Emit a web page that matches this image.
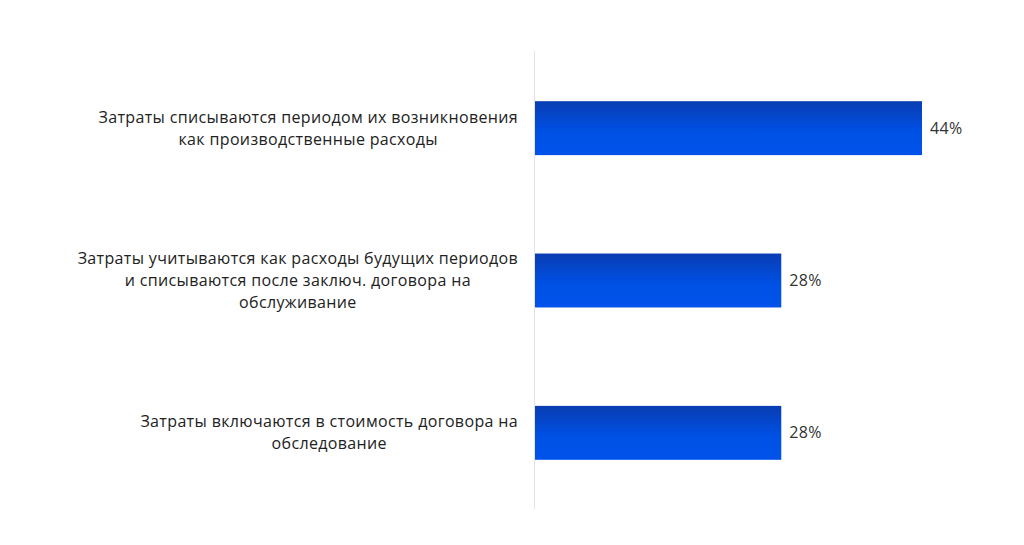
<!DOCTYPE html>
<html>
<head>
<meta charset="utf-8">
<script src="https://cdn.jsdelivr.net/npm/d3@7"></script>
<style>
  body { margin: 0; background: #fff; }
  text { font-family: "Open Sans", "Noto Sans", sans-serif; }
</style>
</head>
<body>
<div id="chart"></div>
<script>
/**
 * DATA
 * */
const categories = [
  "Затраты списываются периодом их возникновения\nкак производственные расходы",
  "Затраты учитываются как расходы будущих периодов\nи списываются после заключ. договора на\nобслуживание",
  "Затраты включаются в стоимость договора на\nобследование"
];
const values = [44, 28, 28];

/**
 * CONSTANTS
 * */
const width = 1024,
  height = 545,
  margin = { top: 51, bottom: 36, left: 535, right: 102 };

const svg = d3
  .select("#chart")
  .append("svg")
  .attr("width", width)
  .attr("height", height);

// bar gradient, darker on top
const grad = svg
  .append("defs")
  .append("linearGradient")
  .attr("id", "barGrad")
  .attr("x1", 0).attr("y1", 0)
  .attr("x2", 0).attr("y2", 1);
grad.append("stop").attr("offset", "0%").attr("stop-color", "#093db2");
grad.append("stop").attr("offset", "55%").attr("stop-color", "#0050e4");
grad.append("stop").attr("offset", "100%").attr("stop-color", "#0053ea");

const xScale = d3
  .scaleLinear()
  .domain([0, 44])
  .range([margin.left, 922]);

const yScale = d3
  .scaleBand()
  .domain(categories)
  .range([margin.top + 1, height - margin.bottom])
  .paddingInner(0.646)
  .paddingOuter(0.323);

// axis line
svg
  .append("line")
  .attr("x1", xScale(0) - 0.5)
  .attr("x2", xScale(0) - 0.5)
  .attr("y1", margin.top)
  .attr("y2", height - margin.bottom)
  .attr("stroke", "#e3e3e3")
  .attr("stroke-width", 1);

// bars
svg
  .selectAll("rect.bar")
  .data(values)
  .join("rect")
  .attr("class", "bar")
  .attr("x", xScale(0))
  .attr("y", (d, i) => yScale(categories[i]))
  .attr("width", d => xScale(d) - xScale(0))
  .attr("height", yScale.bandwidth())
  .attr("fill", "url(#barGrad)");

// value labels
svg
  .selectAll("text.val")
  .data(values)
  .join("text")
  .attr("class", "val")
  .attr("x", d => xScale(d) + 8)
  .attr("y", (d, i) => yScale(categories[i]) + yScale.bandwidth() / 2)
  .attr("dy", "0.35em")
  .attr("font-size", 16)
  .attr("letter-spacing", 0.3)
  .attr("fill", "#333")
  .text(d => d + "%");

// category labels: block right-aligned, lines centered inside
const lineH = 22;
categories.forEach(cat => {
  const lines = cat.split("\n");
  const g = svg.append("g");
  const t = g
    .append("text")
    .attr("font-size", 16)
    .attr("letter-spacing", 0.35)
    .attr("fill", "#222")
    .attr("text-anchor", "middle");
  const cy = yScale(cat) + yScale.bandwidth() / 2;
  const y0 = cy - ((lines.length - 1) * lineH) / 2;
  lines.forEach((ln, i) => {
    t.append("tspan")
      .attr("x", 0)
      .attr("y", y0 + i * lineH)
      .attr("dy", "0.35em")
      .text(ln);
  });
  let maxW = 0;
  t.selectAll("tspan").each(function () {
    maxW = Math.max(maxW, this.getComputedTextLength());
  });
  g.attr("transform", `translate(${518 - maxW / 2},0)`);
});
</script>
</body>
</html>
